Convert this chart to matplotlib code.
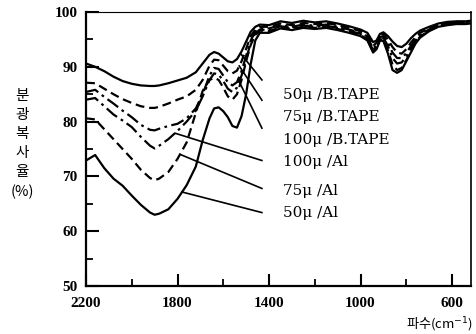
import matplotlib
matplotlib.use("Agg")
import matplotlib.pyplot as plt
import numpy as np
from matplotlib.ticker import MultipleLocator

# ---- data ----
wavenumber = [2200, 2160, 2120, 2080, 2040, 2000, 1960, 1920, 1900, 1880,
              1840, 1800, 1760, 1720, 1690, 1660, 1640, 1620, 1600, 1580,
              1560, 1540, 1520, 1500, 1480, 1460, 1440, 1400, 1350, 1300,
              1250, 1200, 1150, 1100, 1050, 1000, 970, 945, 930, 915,
              900, 880, 860, 840, 820, 800, 780, 760, 740, 700,
              660, 620, 580, 540, 520]

tape50 = [90.6, 90.0, 89.2, 88.2, 87.4, 86.9, 86.6, 86.5, 86.5, 86.6,
          87.0, 87.5, 88.0, 89.0, 90.6, 92.2, 92.7, 92.4, 91.7, 91.0,
          90.8, 91.4, 92.8, 94.6, 96.4, 97.3, 97.7, 97.6, 98.3, 98.0,
          98.4, 98.1, 98.3, 97.9, 97.4, 96.8, 96.2, 94.5, 94.8, 96.0,
          96.3, 95.6, 94.6, 93.8, 93.6, 94.2, 95.2, 96.0, 96.6, 97.3,
          97.9, 98.2, 98.3, 98.3, 98.4]
tape75 = [87.1, 87.0, 86.0, 85.0, 84.1, 83.4, 82.8, 82.5, 82.5, 82.7,
          83.3, 84.0, 84.6, 85.8, 87.6, 90.2, 91.3, 91.2, 90.2, 89.2,
          88.8, 89.3, 91.0, 93.3, 95.6, 96.8, 97.3, 97.3, 97.9, 97.6,
          98.0, 97.8, 98.0, 97.6, 97.1, 96.5, 95.8, 93.8, 94.4, 95.7,
          96.0, 95.0, 93.6, 92.6, 92.4, 93.2, 94.4, 95.4, 96.2, 97.0,
          97.7, 98.0, 98.2, 98.2, 98.3]
tape100 = [85.4, 85.8, 84.5, 83.3, 82.0, 80.8, 79.4, 78.5, 78.4, 78.7,
           79.2, 79.6, 80.6, 82.4, 85.0, 88.4, 89.8, 89.6, 88.4, 87.2,
           86.6, 87.2, 89.2, 92.0, 94.8, 96.4, 97.0, 97.0, 97.6, 97.3,
           97.7, 97.5, 97.7, 97.3, 96.8, 96.2, 95.5, 93.3, 94.0, 95.4,
           95.6, 94.4, 92.6, 91.6, 91.6, 92.5, 93.8, 95.0, 95.9, 96.8,
           97.6, 97.9, 98.1, 98.1, 98.2]
al100 = [84.0, 84.3, 82.8, 81.3, 80.2, 79.0, 77.2, 75.6, 75.1, 75.6,
         76.8, 78.3, 80.0, 82.0, 84.6, 87.6, 88.8, 88.6, 87.4, 86.0,
         85.4, 86.2, 88.4, 91.4, 94.4, 96.1, 96.8, 96.7, 97.4, 97.1,
         97.5, 97.3, 97.5, 97.1, 96.6, 96.0, 95.2, 93.0, 93.7, 95.2,
         95.3, 93.8, 91.6, 90.6, 90.8, 91.9, 93.4, 94.7, 95.7, 96.7,
         97.5, 97.8, 98.0, 98.0, 98.1]
al75 = [80.6, 80.4, 78.6, 76.8, 75.0, 73.2, 71.2, 69.7, 69.3, 69.6,
        70.8, 73.2, 76.2, 81.6, 85.6, 87.6, 88.0, 87.6, 86.2, 84.6,
        84.0, 85.0, 87.6, 91.0, 94.0, 95.8, 96.6, 96.5, 97.2, 96.9,
        97.3, 97.1, 97.3, 96.9, 96.4, 95.8, 95.0, 92.8, 93.4, 95.0,
        95.0, 93.0, 90.4, 89.4, 89.8, 91.2, 92.9, 94.4, 95.5, 96.6,
        97.4, 97.7, 97.9, 97.9, 98.0]
al50 = [72.9, 73.9, 71.5, 69.6, 68.3, 66.5, 64.8, 63.4, 63.0, 63.2,
        64.0, 65.9, 68.4, 71.8, 76.6, 80.6, 82.4, 82.6, 81.9, 80.8,
        79.2, 78.9, 81.0, 85.0, 90.5, 94.8, 96.2, 96.2, 97.0, 96.7,
        97.1, 96.9, 97.1, 96.7, 96.2, 95.6, 94.8, 92.6, 93.2, 94.8,
        94.7, 92.4, 89.4, 88.9, 89.4, 91.0, 92.6, 94.2, 95.3, 96.5,
        97.3, 97.6, 97.8, 97.8, 97.9]

series_labels = ["50\u03bc /B.TAPE", "75\u03bc /B.TAPE", "100\u03bc /B.TAPE",
                 "100\u03bc /Al", "75\u03bc /Al", "50\u03bc /Al"]
xticks = [2200, 1800, 1400, 1000, 600]
yticks = [50, 60, 70, 80, 90, 100]

# ---- styling ----
series = [tape50, tape75, tape100, al100, al75, al50]
styles = ["-", (0, (4, 2.2)), (0, (6, 2, 1.2, 2)), (0, (6, 2, 1.2, 2)),
          (0, (4, 2.2)), "-"]
# leader line: wavenumber where it leaves the curve, label y position
leader_start = [1525, 1530, 1535, 1811, 1789, 1780]
leader_end_y = [87.6, 83.9, 78.8, 72.9, 67.8, 63.4]
label_y = [84.9, 80.8, 76.6, 72.6, 67.4, 63.4]

fig = plt.figure(figsize=(4.76, 3.34), dpi=100)
ax = fig.add_axes([86/476, 1-286/334, 385/476, 274/334])

for vals, ls in zip(series, styles):
    ax.plot(wavenumber, vals, color="black", lw=1.6, ls=ls)

ax.set_xlim(2200, 517)
ax.set_ylim(50, 100)

for lab, ws, ye, yl, vals in zip(series_labels, leader_start, leader_end_y,
                                  label_y, series):
    ys = np.interp(ws, wavenumber[::-1], vals[::-1])
    ax.plot([ws, 1431], [ys, ye], color="black", lw=1.2)
    ax.text(1339, yl, lab, family="DejaVu Serif", fontsize=11,
            va="center", ha="left")

ax.set_xticks(xticks)
ax.set_yticks(yticks)
ax.xaxis.set_minor_locator(MultipleLocator(200))
ax.yaxis.set_minor_locator(MultipleLocator(5))
ax.tick_params(which="major", direction="in", length=9, width=1.5)
ax.tick_params(which="minor", direction="in", length=5, width=1.3)
ax.tick_params(axis="x", which="major", pad=8)
ax.tick_params(axis="y", which="major", pad=6)
ax.tick_params(top=False, right=False, which="both")
for lbl in ax.get_xticklabels() + ax.get_yticklabels():
    lbl.set_family("Liberation Serif")
    lbl.set_fontweight("bold")
    lbl.set_fontsize(11)

ax.spines["left"].set_linewidth(1.6)
ax.spines["bottom"].set_linewidth(1.6)
ax.spines["right"].set_linewidth(1.2)
ax.spines["top"].set_linewidth(0.8)
ax.spines["top"].set_linestyle((0, (2, 0.6)))

fig.text(22/476, 1-144/334, "분\n광\n복\n사\n율\n(%)", family="Noto Sans CJK KR",
         fontsize=10.5, ha="center", va="center", linespacing=1.45,
         multialignment="center")
fig.text(473/476, 1-325/334, "파수(cm$^{-1}$)", family=["Noto Sans CJK KR", "DejaVu Sans"],
         fontsize=9.5, ha="right", va="center")

fig.savefig("out.png", dpi=100)
